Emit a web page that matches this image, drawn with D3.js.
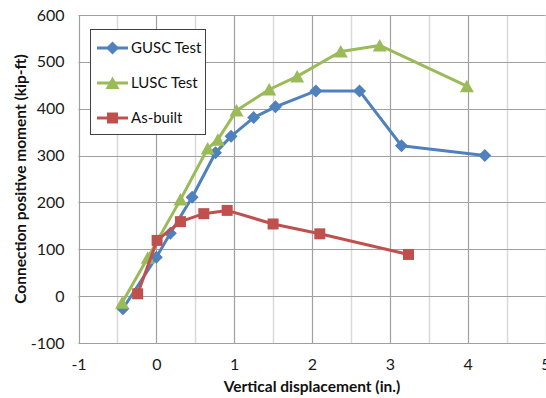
<!DOCTYPE html>
<html>
<head>
<meta charset="utf-8">
<script src="https://cdn.jsdelivr.net/npm/d3@7"></script>
<style>
  html, body { margin: 0; padding: 0; background: #fff; }
  svg { display: block; font-family: Lato, "Open Sans", sans-serif; }
</style>
</head>
<body>
<svg id="chart" width="546" height="398"></svg>
<script>
// Connection positive moment vs. vertical displacement
const guscX = [-0.43, 0.0, 0.18, 0.46, 0.76, 0.96, 1.25, 1.53, 2.05, 2.61, 3.15, 4.22];
const guscY = [-27, 83, 134, 211, 306, 341, 381, 404, 438, 438, 321, 300];

const luscX = [-0.44, -0.11, 0.31, 0.66, 0.79, 1.03, 1.45, 1.81, 2.37, 2.87, 3.99];
const luscY = [-14, 82, 206, 315, 334, 396, 441, 469, 522, 535, 448];

const asBuiltX = [-0.24, 0.01, 0.31, 0.61, 0.91, 1.50, 2.10, 3.24];
const asBuiltY = [5, 119, 159, 176, 183, 154, 133, 89];

const seriesNames = ["GUSC Test", "LUSC Test", "As-built"];
const seriesColors = ["#4F81BD", "#9BBB59", "#C0504D"];
const seriesMarkers = ["diamond", "triangle", "square"];

const xTicks = [-1, 0, 1, 2, 3, 4, 5];
const xMinorTicks = [-0.5, 0.5, 1.5, 2.5, 3.5, 4.5];
const yTicks = [-100, 0, 100, 200, 300, 400, 500, 600];

const xTitle = "Vertical displacement (in.)";
const yTitle = "Connection positive moment (kip-ft)";

const svg = d3.select("#chart");
const plot = { left: 78.5, right: 545.5, top: 15, bottom: 343 };

const x = d3.scaleLinear().domain([-1, 5]).range([plot.left, plot.right]);
const y = d3.scaleLinear().domain([-100, 600]).range([plot.bottom, plot.top]);

// minor vertical gridlines
svg.append("g").selectAll("line").data(xMinorTicks).join("line")
  .attr("x1", d => Math.round(x(d)) + 0.5).attr("x2", d => Math.round(x(d)) + 0.5)
  .attr("y1", plot.top).attr("y2", plot.bottom)
  .attr("stroke", "#d9d9d9").attr("stroke-width", 1.5);

// major gridlines
svg.append("g").selectAll("line").data(xTicks).join("line")
  .attr("x1", d => Math.round(x(d)) + 0.5).attr("x2", d => Math.round(x(d)) + 0.5)
  .attr("y1", plot.top).attr("y2", plot.bottom)
  .attr("stroke", "#a0a0a0").attr("stroke-width", 1.2);
svg.append("g").selectAll("line").data(yTicks).join("line")
  .attr("x1", plot.left).attr("x2", plot.right)
  .attr("y1", d => Math.round(y(d)) + 0.5).attr("y2", d => Math.round(y(d)) + 0.5)
  .attr("stroke", "#a0a0a0").attr("stroke-width", 1.2);

// axes with labels only (plain hyphen for negatives)
const fmt = d => String(d);
const xAxis = d3.axisBottom(x).tickValues(xTicks).tickSize(0).tickPadding(16).tickFormat(fmt);
const yAxis = d3.axisLeft(y).tickValues(yTicks).tickSize(0).tickPadding(14).tickFormat(fmt);

const gx = svg.append("g").attr("transform", `translate(0,${plot.bottom})`).call(xAxis);
const gy = svg.append("g").attr("transform", `translate(${plot.left},0)`).call(yAxis);
[gx, gy].forEach(g => {
  g.select(".domain").remove();
  g.selectAll("text").attr("font-size", 16).attr("fill", "#1a1a1a").attr("font-family", "Lato, sans-serif");
});

// axis titles
svg.append("text")
  .attr("x", (plot.left + plot.right) / 2).attr("y", 392)
  .attr("text-anchor", "middle").attr("font-size", 15.5).attr("font-weight", "bold")
  .attr("fill", "#111").text(xTitle);
svg.append("text")
  .attr("transform", `translate(26,${(plot.top + plot.bottom) / 2}) rotate(-90)`)
  .attr("text-anchor", "middle").attr("font-size", 15.5).attr("font-weight", "bold")
  .attr("fill", "#111").text(yTitle);

// marker shapes
function markerPath(type) {
  if (type === "diamond") return "M0,-6.5L6.5,0L0,6.5L-6.5,0Z";
  if (type === "triangle") return "M0,-6.5L7,6L-7,6Z";
  return "M-5.5,-5.5H5.5V5.5H-5.5Z";
}

const series = [
  { xs: guscX, ys: guscY },
  { xs: luscX, ys: luscY },
  { xs: asBuiltX, ys: asBuiltY }
];

const line = d3.line().x(d => x(d[0])).y(d => y(d[1]));

series.forEach((s, i) => {
  const pts = s.xs.map((v, j) => [v, s.ys[j]]);
  const g = svg.append("g");
  g.append("path").datum(pts)
    .attr("d", line).attr("fill", "none")
    .attr("stroke", seriesColors[i]).attr("stroke-width", 3)
    .attr("stroke-linejoin", "round");
  g.selectAll("path.m").data(pts).join("path").attr("class", "m")
    .attr("transform", d => `translate(${x(d[0])},${y(d[1])})`)
    .attr("d", markerPath(seriesMarkers[i]))
    .attr("fill", seriesColors[i]);
});

// legend
const legend = svg.append("g");
legend.append("rect")
  .attr("x", 90.5).attr("y", 29.5).attr("width", 115).attr("height", 105)
  .attr("fill", "#fff").attr("stroke", "#404040").attr("stroke-width", 1);
const legendY = [48, 83, 118];
seriesNames.forEach((name, i) => {
  const row = legend.append("g").attr("transform", `translate(0,${legendY[i]})`);
  row.append("line").attr("x1", 97).attr("x2", 128).attr("y1", 0).attr("y2", 0)
    .attr("stroke", seriesColors[i]).attr("stroke-width", 3);
  row.append("path").attr("transform", "translate(112.5,0)")
    .attr("d", markerPath(seriesMarkers[i])).attr("fill", seriesColors[i]);
  row.append("text").attr("x", 131).attr("y", 0).attr("dy", "0.35em")
    .attr("font-size", 15).attr("fill", "#111").text(name);
});
</script>
</body>
</html>
